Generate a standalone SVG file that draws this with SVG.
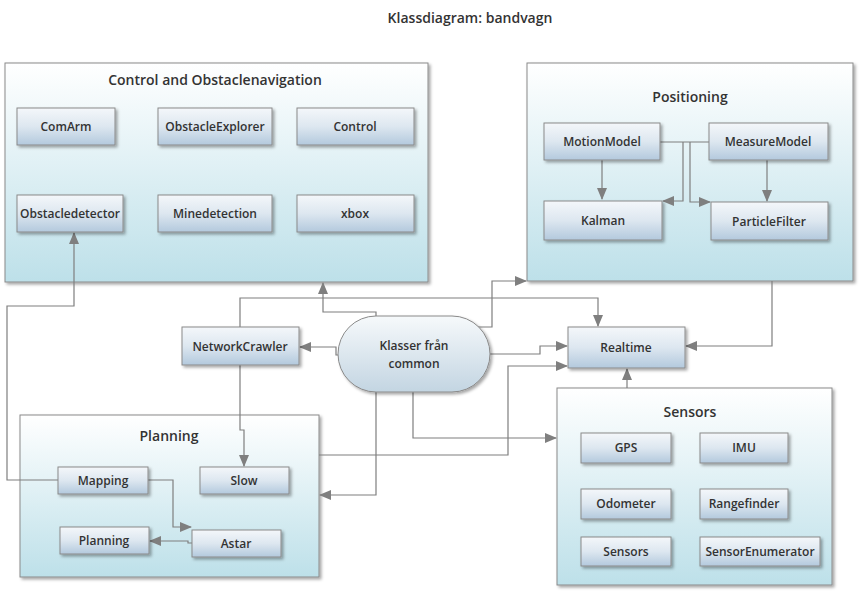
<svg xmlns="http://www.w3.org/2000/svg" width="864" height="597" viewBox="0 0 864 597">
<defs>
<linearGradient id="cg" x1="0" y1="0" x2="0" y2="1"><stop offset="0" stop-color="#ffffff"/><stop offset="1" stop-color="#bde0e9"/></linearGradient>
<linearGradient id="ng" x1="0" y1="0" x2="0" y2="1"><stop offset="0" stop-color="#f4f7fa"/><stop offset="0.5" stop-color="#dde7f0"/><stop offset="1" stop-color="#b3c9dd"/></linearGradient>
<linearGradient id="pg" x1="0" y1="0" x2="0" y2="1"><stop offset="0" stop-color="#f6f9fb"/><stop offset="1" stop-color="#c3d5e2"/></linearGradient>
<filter id="sh" x="-10%" y="-10%" width="130%" height="130%"><feDropShadow dx="2" dy="2" stdDeviation="1.5" flood-color="#000" flood-opacity="0.35"/></filter>
<marker id="ar" markerWidth="12" markerHeight="10" refX="11" refY="5" orient="auto" markerUnits="userSpaceOnUse"><path d="M0,0 L12,5 L0,10 Z" fill="#7f7f7f"/></marker>
<style>
text{font-family:"Open Sans","Liberation Sans",sans-serif;fill:#333;font-weight:600;text-anchor:middle}
.c{fill:url(#cg);stroke:#8a8a8a;stroke-width:1;filter:url(#sh)}
.n{fill:url(#ng);stroke:#8a8a8a;stroke-width:1;filter:url(#sh)}
.t{font-size:14px}
.l{font-size:12px}
#connectors path{fill:none;stroke:#7f7f7f;stroke-width:1.2}
</style>
</defs>
<rect width="864" height="597" fill="#fff"/>
<text x="470" y="23" style="font-size:14px">Klassdiagram: bandvagn</text>

<g id="control"><rect class="c" x="5" y="63" width="423" height="219"/><text class="t" x="215" y="85">Control and Obstaclenavigation</text></g>
<g id="positioning"><rect class="c" x="527" y="63" width="326" height="218"/><text class="t" x="690" y="102">Positioning</text></g>
<g id="planning"><rect class="c" x="20" y="415" width="299" height="162"/><text class="t" x="169" y="441">Planning</text></g>
<g id="sensors"><rect class="c" x="557" y="388" width="275" height="197"/><text class="t" x="690" y="417">Sensors</text></g>

<g id="connectors">
<path d="M58,480 H7 V306 H74 V233" marker-end="url(#ar)"/>
<path d="M240,327 V298 H598 V326" marker-end="url(#ar)"/>
<path d="M376,316 V312 H323 V283" marker-end="url(#ar)"/>
<path d="M338,355 H336 V347 H300" marker-end="url(#ar)"/>
<path d="M470,327 H492 V281 H526" marker-end="url(#ar)"/>
<path d="M490,354 H540 V346 H567" marker-end="url(#ar)"/>
<path d="M319,455 H508 V366 H567" marker-end="url(#ar)"/>
<path d="M413,392 V438 H556" marker-end="url(#ar)"/>
<path d="M376,392 V495 H320" marker-end="url(#ar)"/>
<path d="M240,365 V430 H244 V466" marker-end="url(#ar)"/>
<path d="M148,480 H173 V527 H191" marker-end="url(#ar)"/>
<path d="M192,543 H188 V541 H150" marker-end="url(#ar)"/>
<path d="M772,281 V346 H686" marker-end="url(#ar)"/>
<path d="M627,388 V369" marker-end="url(#ar)"/>
<path d="M602,160 V199" marker-end="url(#ar)"/>
<path d="M767,160 V201" marker-end="url(#ar)"/>
<path d="M660,142 H709"/>
<path d="M683,142 V201 H663" marker-end="url(#ar)"/>
<path d="M690,142 V202 H710" marker-end="url(#ar)"/>
</g>

<g id="comarm"><rect class="n" x="17" y="108" width="98" height="37"/><text class="l" x="66" y="131">ComArm</text></g>
<g id="obstacleexplorer"><rect class="n" x="158" y="108" width="114" height="37"/><text class="l" x="215" y="131">ObstacleExplorer</text></g>
<g id="controlnode"><rect class="n" x="297" y="108" width="117" height="37"/><text class="l" x="355" y="131">Control</text></g>
<g id="obstacledetector"><rect class="n" x="17" y="195" width="106" height="37"/><text class="l" x="70" y="218">Obstacledetector</text></g>
<g id="minedetection"><rect class="n" x="158" y="195" width="114" height="37"/><text class="l" x="215" y="218">Minedetection</text></g>
<g id="xbox"><rect class="n" x="297" y="195" width="117" height="37"/><text class="l" x="355" y="218">xbox</text></g>

<g id="motionmodel"><rect class="n" x="544" y="123" width="116" height="37"/><text class="l" x="602" y="146">MotionModel</text></g>
<g id="measuremodel"><rect class="n" x="709" y="123" width="119" height="37"/><text class="l" x="768" y="146">MeasureModel</text></g>
<g id="kalman"><rect class="n" x="544" y="201" width="118" height="39"/><text class="l" x="603" y="225">Kalman</text></g>
<g id="particlefilter"><rect class="n" x="711" y="202" width="117" height="38"/><text class="l" x="769" y="226">ParticleFilter</text></g>

<g id="realtime"><rect class="n" x="568" y="327" width="117" height="41"/><text class="l" x="626" y="352">Realtime</text></g>
<g id="networkcrawler"><rect class="n" x="182" y="327" width="117" height="38"/><text class="l" x="240" y="351">NetworkCrawler</text></g>
<g id="common"><rect x="338" y="316" width="152" height="76" rx="38" fill="url(#pg)" stroke="#8a8a8a" filter="url(#sh)"/><text class="l" x="414" y="350">Klasser från</text><text class="l" x="414" y="368">common</text></g>

<g id="mapping"><rect class="n" x="58" y="467" width="90" height="27"/><text class="l" x="103" y="485">Mapping</text></g>
<g id="slow"><rect class="n" x="200" y="467" width="89" height="27"/><text class="l" x="244" y="485">Slow</text></g>
<g id="planningnode"><rect class="n" x="60" y="527" width="89" height="27"/><text class="l" x="104" y="545">Planning</text></g>
<g id="astar"><rect class="n" x="192" y="530" width="89" height="27"/><text class="l" x="236" y="548">Astar</text></g>

<g id="gps"><rect class="n" x="581" y="433" width="90" height="30"/><text class="l" x="626" y="452">GPS</text></g>
<g id="imu"><rect class="n" x="700" y="433" width="88" height="30"/><text class="l" x="744" y="452">IMU</text></g>
<g id="odometer"><rect class="n" x="581" y="489" width="90" height="30"/><text class="l" x="626" y="508">Odometer</text></g>
<g id="rangefinder"><rect class="n" x="700" y="489" width="88" height="30"/><text class="l" x="744" y="508">Rangefinder</text></g>
<g id="sensorsnode"><rect class="n" x="581" y="537" width="90" height="29"/><text class="l" x="626" y="556">Sensors</text></g>
<g id="sensorenumerator"><rect class="n" x="700" y="537" width="120" height="29"/><text class="l" x="760" y="556">SensorEnumerator</text></g>
</svg>
